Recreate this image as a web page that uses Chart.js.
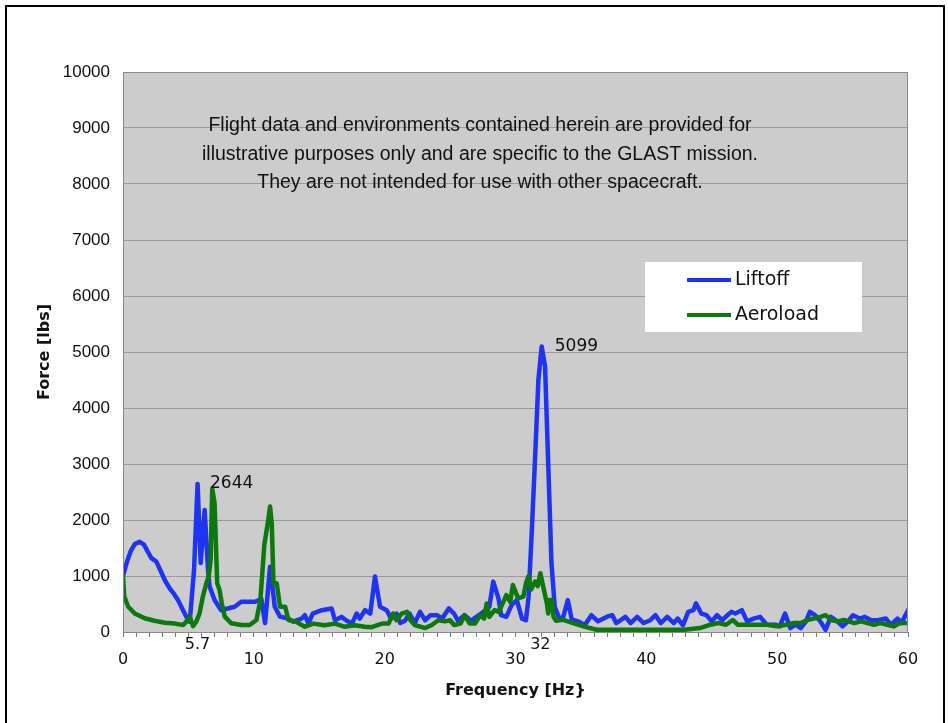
<!DOCTYPE html>
<html>
<head>
<meta charset="utf-8">
<script src="https://cdn.jsdelivr.net/npm/chart.js@4.4.1/dist/chart.umd.min.js"></script>
<style>
html, body { margin: 0; padding: 0; background: #fff; }
#frame { position: absolute; left: 5px; top: 5px; width: 936px; height: 740px; border: 2px solid #000; border-bottom: none; }
#myChart { position: absolute; left: 0; top: 0; }
</style>
</head>
<body>
<div id="frame"></div>
<canvas id="myChart" width="948" height="723"></canvas>
<script>
// values
var liftoffHz  = [0, 0.3, 0.6, 0.9, 1.27, 1.6, 1.9, 2.17, 2.55, 2.9, 3.19, 3.57, 3.9, 4.2, 4.59, 4.84, 5.1, 5.22, 5.43, 5.7, 5.94, 6.24, 6.5, 6.62, 7.0, 7.5, 8.0, 8.53, 9.04, 9.7, 10.1, 10.57, 10.86, 11.24, 11.6, 12.0, 12.64, 13.0, 13.66, 13.9, 14.17, 14.5, 15.2, 15.95, 16.2, 16.7, 17.1, 17.5, 17.86, 18.1, 18.5, 18.9, 19.26, 19.65, 20.15, 20.5, 20.9, 21.2, 21.55, 21.9, 22.3, 22.7, 23.1, 23.5, 24.0, 24.4, 24.9, 25.3, 25.6, 26.1, 26.6, 27.2, 27.7, 28.0, 28.3, 28.7, 28.9, 29.3, 29.7, 30.1, 30.5, 30.8, 31.0, 31.25, 31.5, 31.75, 32.0, 32.26, 32.5, 32.75, 33.0, 33.3, 33.6, 34.0, 34.3, 34.8, 35.3, 35.8, 36.3, 37.0, 37.4, 37.7, 38.4, 38.8, 39.3, 39.8, 40.3, 40.7, 41.1, 41.6, 42.1, 42.4, 42.8, 43.2, 43.6, 43.8, 44.2, 44.6, 45.0, 45.4, 45.8, 46.2, 46.5, 46.8, 47.3, 47.7, 48.2, 48.7, 49.2, 49.85, 50.2, 50.6, 51.0, 51.4, 51.8, 52.2, 52.5, 52.9, 53.3, 53.7, 54.1, 54.6, 55.0, 55.4, 55.8, 56.3, 56.7, 57.2, 57.7, 58.3, 58.7, 59.2, 59.5, 60.0];
var liftoffLbs = [1000, 1250, 1450, 1570, 1610, 1560, 1430, 1320, 1256, 1080, 929, 780, 680, 570, 390, 274, 185, 515, 1107, 2644, 1230, 2180, 1107, 810, 570, 390, 420, 450, 540, 540, 540, 590, 160, 1166, 452, 274, 240, 185, 240, 300, 150, 330, 390, 420, 210, 270, 200, 150, 330, 240, 390, 330, 990, 450, 390, 240, 330, 160, 200, 330, 160, 360, 210, 300, 300, 240, 420, 330, 200, 300, 200, 300, 390, 450, 900, 600, 300, 270, 480, 570, 240, 210, 630, 1820, 3130, 4500, 5099, 4740, 3010, 1230, 450, 270, 230, 570, 220, 190, 125, 300, 190, 274, 300, 160, 270, 160, 270, 160, 210, 300, 160, 270, 160, 240, 120, 360, 390, 510, 330, 300, 190, 300, 210, 300, 360, 330, 390, 190, 240, 270, 130, 130, 100, 330, 70, 130, 70, 190, 360, 300, 190, 40, 270, 190, 100, 190, 300, 240, 270, 210, 210, 240, 130, 240, 160, 390];

var aeroHz  = [0, 0.1, 0.4, 0.9, 1.66, 2.4, 3.2, 3.97, 4.6, 4.84, 5.1, 5.35, 5.6, 5.85, 6.1, 6.37, 6.55, 6.7, 6.82, 7.0, 7.2, 7.38, 7.55, 7.78, 8.28, 9.05, 9.68, 10.2, 10.5, 10.8, 11.1, 11.24, 11.37, 11.5, 11.75, 12.0, 12.4, 12.64, 13.2, 13.9, 14.55, 15.4, 16.2, 16.9, 17.7, 18.5, 19.0, 19.8, 20.3, 20.65, 20.9, 21.3, 21.7, 22.0, 22.3, 23.1, 23.6, 24.1, 24.6, 25.0, 25.3, 25.8, 26.1, 26.5, 26.9, 27.3, 27.6, 27.8, 28.0, 28.4, 28.7, 28.9, 29.3, 29.6, 29.8, 30.2, 30.6, 30.8, 31.0, 31.2, 31.5, 31.7, 31.9, 32.1, 32.4, 32.5, 32.6, 32.8, 32.9, 33.1, 33.6, 34.4, 35.2, 36.2, 38.3, 40.8, 42.9, 44.1, 44.9, 45.5, 46.1, 46.6, 47.0, 47.7, 48.4, 49.2, 50.0, 50.7, 51.3, 51.8, 52.3, 52.8, 53.3, 53.7, 54.1, 54.6, 55.1, 55.9, 56.4, 56.9, 57.4, 57.9, 58.4, 58.9, 59.4, 60.0];
var aeroLbs = [1000, 630, 450, 330, 245, 200, 165, 150, 125, 185, 274, 105, 185, 330, 630, 870, 990, 1290, 2560, 2300, 870, 750, 510, 274, 155, 125, 125, 215, 570, 1550, 2000, 2240, 1940, 870, 870, 452, 452, 215, 185, 95, 150, 120, 150, 95, 120, 95, 85, 150, 150, 330, 210, 330, 360, 200, 125, 70, 125, 210, 190, 210, 125, 150, 300, 150, 150, 300, 240, 510, 270, 390, 360, 450, 660, 540, 840, 600, 630, 870, 1000, 760, 900, 820, 1050, 830, 510, 330, 570, 570, 274, 200, 220, 160, 100, 40, 40, 40, 40, 70, 130, 160, 130, 215, 130, 130, 130, 130, 100, 130, 160, 160, 215, 240, 270, 300, 215, 190, 215, 160, 190, 160, 130, 160, 130, 100, 160, 160];

var seriesNames = ['Liftoff', 'Aeroload'];
var seriesColors = ['#1f33f2', '#0d780d'];
var yTicks = [0, 1000, 2000, 3000, 4000, 5000, 6000, 7000, 8000, 9000, 10000];
var peakLabels = [{ hz: 6.65, lbs: 2644, text: '2644' }, { hz: 33.0, lbs: 5099, text: '5099' }];
var freqMarks = [{ hz: 5.7, text: '5.7' }, { hz: 31.9, text: '32' }];
var noteLines = [
  'Flight data and environments contained herein are provided for',
  'illustrative purposes only and are specific to the GLAST mission.',
  'They are not intended for use with other spacecraft.'
];

function toPoints(xs, ys) {
  var pts = [];
  for (var k = 0; k < xs.length; k++) pts.push({ x: xs[k], y: ys[k] });
  return pts;
}

// grey plot area, border, notes, legend and value labels
const extras = {
  id: 'extras',
  beforeDraw(chart) {
    const a = chart.chartArea, ctx = chart.ctx;
    ctx.save();
    ctx.fillStyle = '#cccccc';
    ctx.fillRect(a.left, a.top, a.right - a.left, a.bottom - a.top);
    ctx.restore();
  },
  afterDatasetsDraw(chart) {
    const a = chart.chartArea, ctx = chart.ctx;
    const xs = chart.scales.x, ys = chart.scales.y;
    ctx.save();
    ctx.strokeStyle = '#8a8a8a';
    ctx.lineWidth = 1;
    ctx.strokeRect(a.left + 0.5, a.top + 0.5, a.right - a.left - 1, a.bottom - a.top);

    ctx.fillStyle = '#111';
    ctx.font = '19.5px "Liberation Sans", Arial, sans-serif';
    ctx.textAlign = 'center';
    ctx.textBaseline = 'middle';
    for (var k = 0; k < noteLines.length; k++) {
      ctx.fillText(noteLines[k], 480, 126 + k * 28.5);
    }

    ctx.font = '17px "DejaVu Sans", Verdana, sans-serif';
    ctx.textAlign = 'left';
    peakLabels.forEach(function (p) {
      ctx.fillText(p.text, xs.getPixelForValue(p.hz), ys.getPixelForValue(p.lbs));
    });

    ctx.font = '16px "DejaVu Sans", Verdana, sans-serif';
    ctx.textAlign = 'center';
    freqMarks.forEach(function (m) {
      ctx.fillText(m.text, xs.getPixelForValue(m.hz), a.bottom + 13);
    });

    // legend box
    ctx.fillStyle = '#fff';
    ctx.fillRect(645, 262, 217, 70);
    ctx.font = '19px "DejaVu Sans", Verdana, sans-serif';
    ctx.textAlign = 'left';
    for (var i = 0; i < seriesNames.length; i++) {
      var ly = 280 + i * 35;
      ctx.strokeStyle = seriesColors[i];
      ctx.lineWidth = 4;
      ctx.beginPath();
      ctx.moveTo(687, ly);
      ctx.lineTo(731, ly);
      ctx.stroke();
      ctx.fillStyle = '#111';
      ctx.fillText(seriesNames[i], 735, ly);
    }
    ctx.restore();
  }
};

const data = {
  datasets: [{
    label: seriesNames[0],
    data: toPoints(liftoffHz, liftoffLbs),
    borderColor: seriesColors[0],
    backgroundColor: seriesColors[0],
    order: 2
  }, {
    label: seriesNames[1],
    data: toPoints(aeroHz, aeroLbs),
    borderColor: seriesColors[1],
    backgroundColor: seriesColors[1],
    order: 1
  }]
};

const config = {
  type: 'line',
  data: data,
  plugins: [extras],
  options: {
    responsive: false,
    animation: false,
    layout: { padding: { left: 0, right: 40, top: 72, bottom: 0 } },
    elements: {
      point: { radius: 0 },
      line: { borderWidth: 4.5, tension: 0, borderJoinStyle: 'round', borderCapStyle: 'round' }
    },
    plugins: {
      legend: { display: false },
      tooltip: { enabled: false }
    },
    scales: {
      x: {
        type: 'linear',
        min: 0,
        max: 60,
        afterFit: function (s) { s.height = 91; },
        grid: { drawOnChartArea: false, tickLength: 5, color: '#777' },
        border: { color: '#777' },
        ticks: {
          stepSize: 1,
          autoSkip: false,
          maxRotation: 0,
          padding: 13,
          color: '#111',
          font: { family: '"DejaVu Sans", Verdana, sans-serif', size: 16 },
          callback: function (v) { return v % 10 === 0 ? String(v) : ''; }
        },
        title: {
          display: true,
          text: 'Frequency [Hz}',
          color: '#111',
          padding: { top: 0, bottom: 23 },
          font: { family: '"DejaVu Sans", Verdana, sans-serif', size: 16, weight: 'bold' }
        }
      },
      y: {
        min: 0,
        max: 10000,
        afterFit: function (s) { s.width = 123; },
        afterBuildTicks: function (s) { s.ticks = yTicks.map(function (v) { return { value: v }; }); },
        grid: { color: '#9a9a9a', drawTicks: false },
        border: { display: false },
        ticks: {
          padding: 13,
          color: '#111',
          font: { family: '"Liberation Sans", Arial, sans-serif', size: 17 },
          callback: function (v) { return String(v); }
        },
        title: {
          display: true,
          text: 'Force [lbs]',
          color: '#111',
          padding: { top: 35, bottom: 0 },
          font: { family: '"DejaVu Sans", Verdana, sans-serif', size: 16, weight: 'bold' }
        }
      }
    }
  }
};

const myChart = new Chart(document.getElementById('myChart'), config);
</script>
</body>
</html>
